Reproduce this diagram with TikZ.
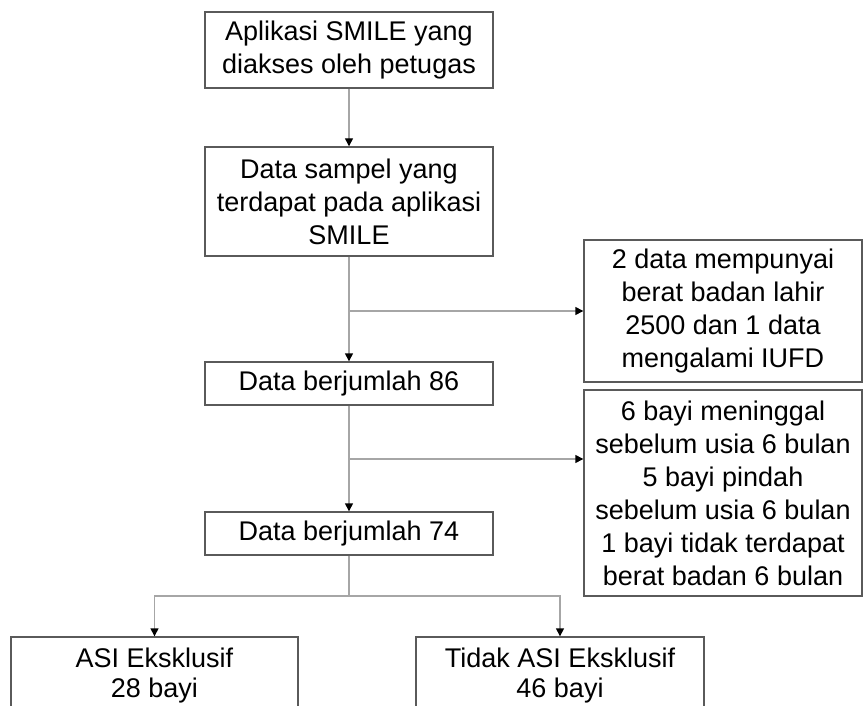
\documentclass[tikz,border=0pt]{standalone}
\usepackage{fontspec}
\setmainfont{Liberation Sans}
\usetikzlibrary{arrows.meta}
\definecolor{boxline}{HTML}{5A5A5A}
\definecolor{connline}{HTML}{A6A6A6}
\tikzset{
  flowbox/.style={draw=boxline, line width=1.4bp, fill=white, inner sep=0pt,
    align=center, font=\fontsize{27bp}{33bp}\selectfont},
  conn/.style={draw=connline, line width=1.4bp},
  arr/.style={conn, -{Triangle[length=8bp,width=8bp,color=black]}},
}
\begin{document}
\begin{tikzpicture}[x=1bp,y=-1bp]
\useasboundingbox (0,0) rectangle (863,706);
\clip (0,0) rectangle (863,706);
\node[flowbox, minimum width=288bp, minimum height=76bp] (b1) at (349,50)
  {Aplikasi SMILE yang\\diakses oleh petugas};
\node[flowbox, minimum width=288bp, minimum height=109bp] (b2) at (349,201.5)
  {Data sampel yang\\terdapat pada aplikasi\\SMILE};
\node[flowbox, minimum width=288bp, minimum height=43bp] (b3) at (349,383.5)
  {Data berjumlah 86};
\node[flowbox, minimum width=288bp, minimum height=43bp] (b4) at (349,533.5)
  {Data berjumlah 74};
\node[flowbox, minimum width=278bp, minimum height=142bp] (s1) at (723,311)
  {2 data mempunyai\\berat badan lahir\\2500 dan 1 data\\mengalami IUFD};
\node[flowbox, minimum width=278bp, minimum height=206bp] (s2) at (723,493)
  {6 bayi meninggal\\sebelum usia 6 bulan\\5 bayi pindah\\sebelum usia 6 bulan\\1 bayi tidak terdapat\\berat badan 6 bulan};
\node[flowbox, minimum width=287bp, minimum height=78bp,
  font=\fontsize{27bp}{30bp}\selectfont] (bl) at (154.5,676)
  {ASI Eksklusif\\28 bayi};
\node[flowbox, minimum width=288bp, minimum height=78bp,
  font=\fontsize{27bp}{30bp}\selectfont] (br) at (560,676)
  {Tidak ASI Eksklusif\\46 bayi};
\coordinate (j1) at (b2.south |- s1.west);
\coordinate (j2) at (349,459);
\coordinate (j3) at (349,596);
\draw[arr] (b1.south) -- (b2.north);
\draw[arr] (b2.south) -- (b3.north);
\draw[arr] (j1) -- (s1.west);
\draw[arr] (b3.south) -- (b4.north);
\draw[arr] (j2) -- (j2 -| s2.west);
\draw[conn] (b4.south) -- (j3);
\draw[arr] (j3) -| (bl.north);
\draw[arr] (j3) -| (br.north);
\end{tikzpicture}
\end{document}
